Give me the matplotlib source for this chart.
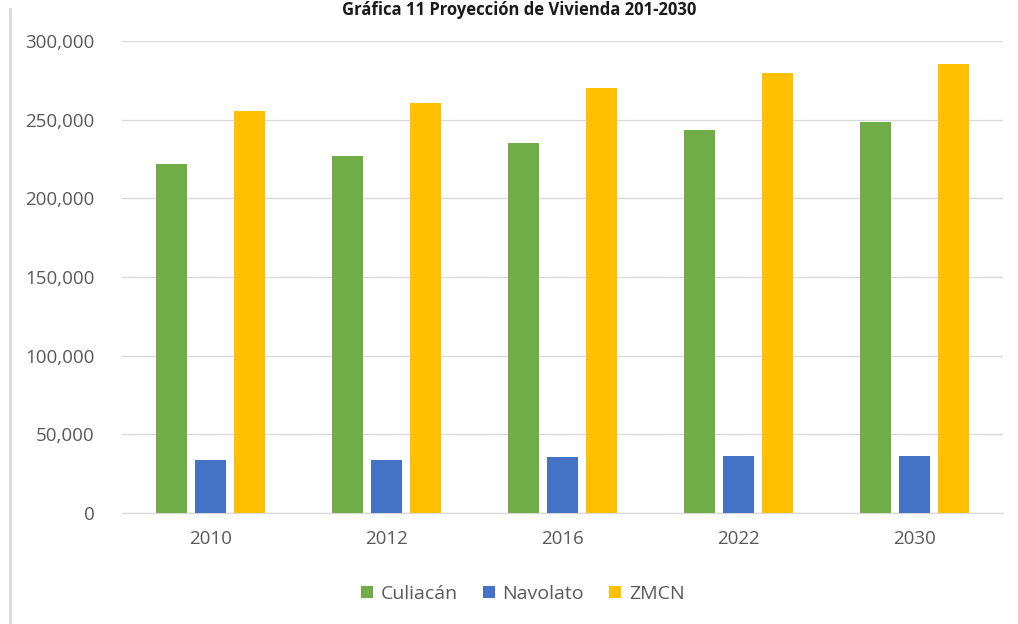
import matplotlib.pyplot as plt
import numpy as np

# datos de proyección de vivienda
anios = ['2010', '2012', '2016', '2022', '2030']
culiacan = [222000, 227000, 235000, 243500, 248500]
navolato = [33700, 33700, 35500, 36200, 36200]
zmcn = [255500, 260500, 270000, 279500, 285500]

series = [('Culiacán', culiacan, '#70ad47'),
          ('Navolato', navolato, '#4472c4'),
          ('ZMCN', zmcn, '#ffc000')]

plt.rcParams['font.family'] = ['Open Sans', 'DejaVu Sans']

fig = plt.figure(figsize=(10.18, 6.24), dpi=100)
ax = fig.add_axes([0.12, 0.178, 0.865, 0.756])

x = np.arange(len(anios))
ancho = 0.176
paso = 0.222
for i, (nombre, vals, color) in enumerate(series):
    ax.bar(x + (i - 1) * paso, vals, ancho, color=color, label=nombre, zorder=3)

ax.set_xlim(-0.5, len(anios) - 0.5)
ax.set_ylim(0, 300000)
ax.set_yticks(np.arange(0, 300001, 50000))
ax.set_yticklabels([f'{v:,}' for v in range(0, 300001, 50000)])
ax.set_xticks(x)
ax.set_xticklabels(anios)
ax.tick_params(axis='both', length=0, labelsize=13.5, labelcolor='#595959')
ax.tick_params(axis='y', pad=20)
ax.tick_params(axis='x', pad=12)
ax.grid(axis='y', color='#d9d9d9', lw=1, zorder=0)
for s in ['top', 'right', 'left']:
    ax.spines[s].set_visible(False)
ax.spines['bottom'].set_color('#d9d9d9')

ax.legend(loc='upper center', bbox_to_anchor=(0.455, -0.115), ncol=3, frameon=False,
          fontsize=14, labelcolor='#595959', handlelength=0.6, handleheight=0.6,
          handletextpad=0.4, columnspacing=1.3)

# título y borde izquierdo
fig.text(0.51, 0.998, 'Gráfica 11 Proyección de Vivienda 201-2030', ha='center', va='top',
         fontsize=12, fontweight='bold', color='#1a1a1a')
fig.add_artist(plt.Line2D([0.01, 0.01], [0, 0.985], color='#d9d9d9', lw=2))

plt.savefig('out.png', dpi=100)
